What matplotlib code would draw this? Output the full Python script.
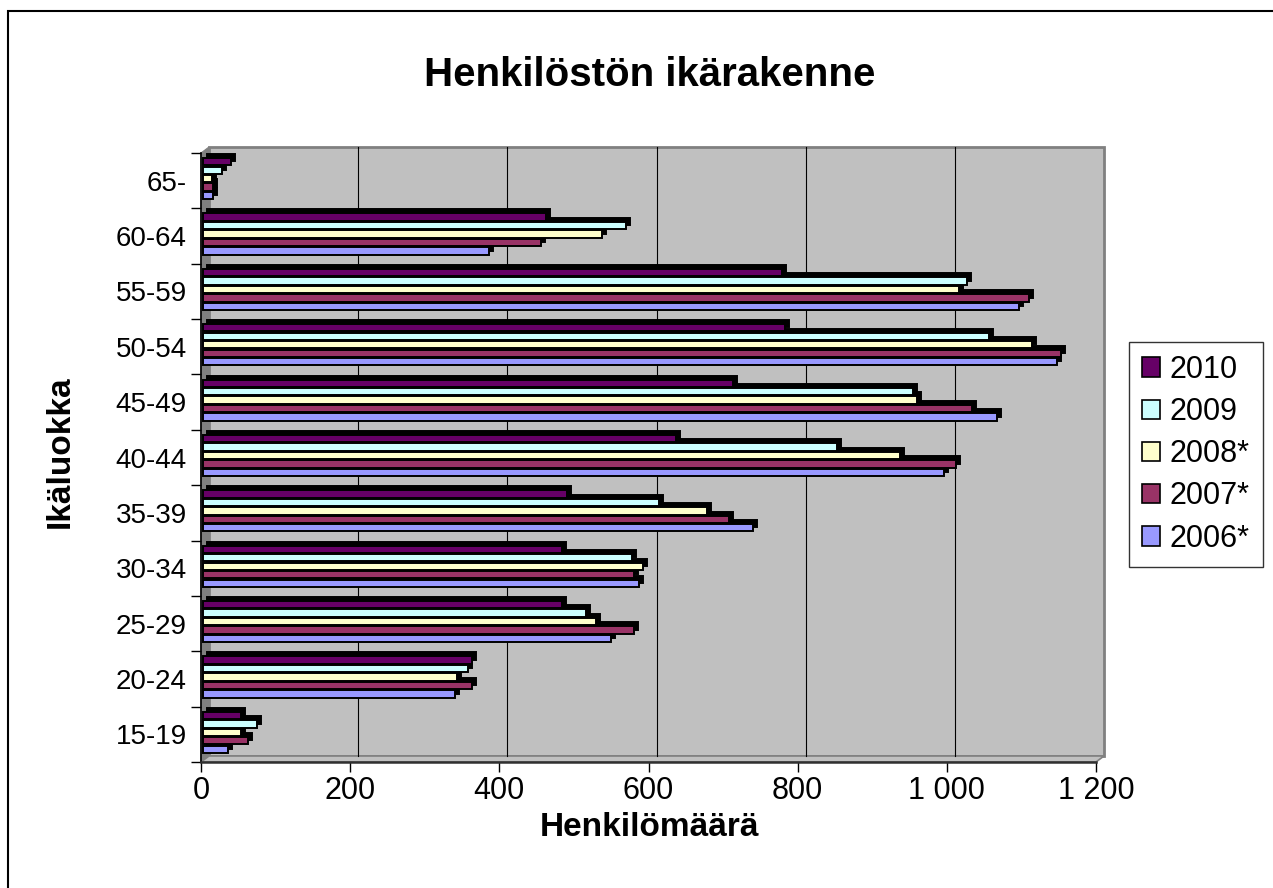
import numpy as np
import matplotlib.pyplot as plt
from matplotlib import transforms as mtransforms
from matplotlib.patches import Rectangle, Polygon, Patch
from matplotlib.lines import Line2D
from matplotlib.ticker import FuncFormatter

plt.rcParams['font.family'] = ['Liberation Sans', 'DejaVu Sans']

# ikäluokat alhaalta ylös
cats = ['15-19', '20-24', '25-29', '30-34', '35-39', '40-44',
        '45-49', '50-54', '55-59', '60-64', '65-']

v2010 = [51, 361, 481, 481, 488, 634, 710, 781, 776, 460, 38]
v2009 = [72, 355, 513, 575, 611, 850, 952, 1054, 1024, 567, 25]
v2008 = [51, 340, 527, 590, 676, 934, 957, 1111, 1013, 535, 12]
v2007 = [60, 361, 578, 578, 705, 1009, 1031, 1151, 1107, 453, 14]
v2006 = [34, 338, 547, 584, 737, 993, 1064, 1145, 1094, 383, 13]

labels = ['2010', '2009', '2008*', '2007*', '2006*']
colors = ['#660066', '#ccffff', '#ffffcc', '#993366', '#9999ff']
xticks = [0, 200, 400, 600, 800, 1000, 1200]

W, H, DPI = 1273, 888, 100
fig = plt.figure(figsize=(W / DPI, H / DPI), dpi=DPI)
ax = fig.add_axes([201 / W, 1 - 762 / H, 895 / W, 609 / H])
ax.patch.set_visible(False)


def px(dx, dy):
    # siirto pikseleinä (3D-syvyys)
    return mtransforms.ScaledTranslation(dx / DPI, dy / DPI, fig.dpi_scale_trans)


DX, DY = 8, 6
back = px(DX, DY)
ident = mtransforms.IdentityTransform()

# takaseinä
ax.add_patch(Rectangle((0, 0), 1, 1, transform=ax.transAxes + back,
                       facecolor='#c0c0c0', edgecolor='#808080', lw=2,
                       zorder=0, clip_on=False))

# sivuseinä ja lattia
p00 = ax.transAxes.transform((0, 0))
p01 = ax.transAxes.transform((0, 1))
p10 = ax.transAxes.transform((1, 0))
d = np.array([DX, DY])
ax.add_patch(Polygon([p00, p01, p01 + d, p00 + d], closed=True, transform=ident,
                     facecolor='#808080', edgecolor='#808080', lw=0.8,
                     zorder=0.5, clip_on=False))
ax.add_patch(Polygon([p00, p10, p10 + d, p00 + d], closed=True, transform=ident,
                     facecolor='#c0c0c0', edgecolor='#808080', lw=1.2,
                     zorder=0.5, clip_on=False))

# ruudukko takaseinällä + vinoviivat lattialla
for t in xticks[1:-1]:
    ax.plot([t, t], [0, 1], transform=ax.get_xaxis_transform() + back,
            color='black', lw=0.8, zorder=1, clip_on=False)
    q = ax.get_xaxis_transform().transform((t, 0))
    ax.add_line(Line2D([q[0], q[0] + DX], [q[1], q[1] + DY], transform=ident,
                       color='black', lw=0.8, zorder=1, clip_on=False))

# palkit
series = [v2010, v2009, v2008, v2007, v2006]
step = 0.153
bh = 0.132
ypos = np.arange(len(cats))
for i, vals in enumerate(series):
    y = ypos + (2 - i) * step
    ax.barh(y, vals, height=bh, color='black', edgecolor='black', lw=1.4,
            transform=ax.transData + px(6, 6), zorder=3, clip_on=False)
for i, (vals, col) in enumerate(zip(series, colors)):
    y = ypos + (2 - i) * step
    ax.barh(y, vals, height=bh, color=col, edgecolor='black', lw=1.4,
            transform=ax.transData + px(2, 2), zorder=4, clip_on=False)

ax.set_xlim(0, 1200)
ax.set_ylim(-0.5, len(cats) - 0.5)

# akselit
for s in ['top', 'right']:
    ax.spines[s].set_visible(False)
ax.spines['left'].set_linewidth(1.2)
ax.spines['bottom'].set_linewidth(1.8)
ax.spines['bottom'].set_color('#303030')
ax.set_xticks(xticks)
ax.xaxis.set_major_formatter(FuncFormatter(lambda v, p: f'{int(v):,}'.replace(',', ' ')))
ax.tick_params(axis='x', direction='out', length=7.2, width=1, labelsize=22, pad=3)
ax.set_yticks(ypos)
ax.set_yticklabels(cats)
ax.set_yticks(np.arange(len(cats) + 1) - 0.5, minor=True)
ax.tick_params(axis='y', which='major', length=0, labelsize=20, pad=10)
ax.tick_params(axis='y', which='minor', direction='out', length=7.2, width=1)

fig.text(650 / W, 1 - 75 / H, 'Henkilöstön ikärakenne', ha='center', va='center',
         fontsize=29, fontweight='bold')
fig.text(650 / W, 1 - 827 / H, 'Henkilömäärä', ha='center', va='center',
         fontsize=24, fontweight='bold')
fig.text(60 / W, 1 - 452 / H, 'Ikäluokka', ha='center', va='center',
         fontsize=24, fontweight='bold', rotation=90)

handles = [Patch(facecolor=c, edgecolor='black', lw=1.2) for c in colors]
leg = fig.legend(handles, labels, loc='upper left',
                 bbox_to_anchor=(1129 / W, 1 - 342 / H), borderaxespad=0,
                 fontsize=22, frameon=True, fancybox=False, edgecolor='black',
                 handlelength=0.6, handleheight=0.6, handletextpad=0.32,
                 labelspacing=0.4, borderpad=0.42)
leg.get_frame().set_linewidth(1.0)

# kehys
fig.add_artist(Rectangle((8 / W, -0.01), 1.02, 1 - 11 / H + 0.01, transform=fig.transFigure,
                         facecolor='none', edgecolor='black', lw=1.5))

fig.savefig('out.png', dpi=DPI)
